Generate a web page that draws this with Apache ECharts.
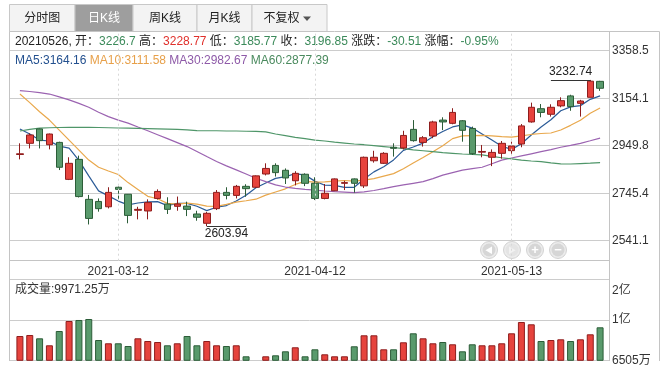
<!DOCTYPE html>
<html><head><meta charset="utf-8">
<script src="https://cdn.jsdelivr.net/npm/echarts@6/dist/echarts.min.js"></script>
<style>html,body{margin:0;padding:0;background:#fff}#c{width:667px;height:367px}</style>
</head><body><div id="c"></div>
<script>
const dates = ['2021-02-26','2021-03-01','2021-03-02','2021-03-03','2021-03-04','2021-03-05','2021-03-08','2021-03-09','2021-03-10','2021-03-11','2021-03-12','2021-03-15','2021-03-16','2021-03-17','2021-03-18','2021-03-19','2021-03-22','2021-03-23','2021-03-24','2021-03-25','2021-03-26','2021-03-29','2021-03-30','2021-03-31','2021-04-01','2021-04-02','2021-04-06','2021-04-07','2021-04-08','2021-04-09','2021-04-12','2021-04-13','2021-04-14','2021-04-15','2021-04-16','2021-04-19','2021-04-20','2021-04-21','2021-04-22','2021-04-23','2021-04-26','2021-04-27','2021-04-28','2021-04-29','2021-04-30','2021-05-06','2021-05-07','2021-05-10','2021-05-11','2021-05-12','2021-05-13','2021-05-14','2021-05-17','2021-05-18','2021-05-19','2021-05-20','2021-05-21','2021-05-24','2021-05-25','2021-05-26'];
const opens  = [2912,2960,3022,2954,2964,2805,2891,2719,2710,2687,2771,2741,2672,2669,2723,2699,2689,2690,2656,2616,2679,2749,2736,2775,2771,2828,2865,2844,2799,2827,2788,2723,2756,2788,2807,2777,2885,2874,2943,2940,3020,2964,2991.5,3060,3046,3057,3024,2922,2900,2917,2928.5,2957,3052,3109,3085,3121,3164,3132,3158,3226.7];
const closes = [2915,2996,2971.5,3000,2857,2874,2731,2637,2679,2749,2762,2650,2676,2705,2753,2676,2699,2676,2642,2659,2749,2736,2775,2765,2820,2852,2834,2811,2831,2788,2723,2745,2807,2791,2788,2900,2900,2917,2938.5,2994,2971.5,2984,3052,3052,3093,3016,2915.5,2925,2921,2960,2948.5,3035,3115,3093,3115,3143.5,3118,3142,3227.36,3196.85];
const lows   = [2891,2938,2938,2934,2845,2802,2727,2611,2666,2680,2716,2616,2633,2633,2718,2656,2670,2647,2627,2603.94,2673,2719,2723,2730,2768,2822,2817,2785,2779,2776,2716,2719,2755,2759,2748,2768,2877,2871,2903,2934,2967,2946,2982,3017,3042,2967,2910,2900,2862,2894,2910,2943,3049,3072,3075,3115,3100,3075,3158,3185.77];
const highs  = [2960,3003,3024,3002,2967,2900,2907,2738,2723,2771,2774,2742,2687,2719,2762,2728,2731,2709,2670,2665,2759,2771,2781,2784,2822,2874,2874,2852,2840,2831,2814,2785,2809,2799,2809,2903,2928,2922,2960,3014,3060,2991,3057,3072,3111,3060,3032,2953,2934,2970,2967,3043,3135,3129,3128,3158,3169,3147,3232.74,3228.77];
const volumes = [9057,9163,8816,8081,9583,10633,10738,10843,8637,8291,8291,8007,8816,8532,8427,8081,8291,9057,8081,8532,8081,8007,8081,6925,6535,6925,7030,7450,7871,6925,7660,7135,6925,6925,7976,9131,9131,7660,7660,8396,9341,8816,8291,8427,8186,7450,8186,8081,8081,8291,9341,10528,10286,8532,8637,8711,8532,8711,9236,9971.25];
const ma5  = [3022,3000,2974,2970,2947.9,2939.7,2886.7,2819.8,2755.6,2734,2711.6,2695.4,2703.2,2708.4,2709.2,2692,2701.8,2701.8,2689.2,2670.4,2685,2692.4,2712.2,2736.8,2769,2789.6,2809.2,2816.4,2829.6,2823.2,2797.4,2779.6,2778.8,2770.8,2770.8,2806.2,2837.2,2859.2,2888.7,2929.9,2944.2,2961,2988,3010.7,3030.5,3039.4,3025.7,3000.3,2974.1,2947.5,2934,2957.9,2995.9,3030.3,3061.3,3100.3,3116.8,3122.2,3149.1,3164.16];
const ma10 = [3172,3135,3096,3060,3017,2974,2931,2888,2857,2841,2825.7,2791.1,2761.5,2732,2721.6,2701.8,2698.6,2702.5,2698.8,2689.8,2688.5,2697.1,2707,2713,2719.7,2737.3,2750.8,2764.3,2783.2,2796.1,2793.5,2794.4,2797.6,2800.2,2797,2801.8,2808.4,2819,2829.8,2850.4,2875.2,2899.1,2923.6,2949.7,2980.2,2991.8,2993.4,2994.2,2992.4,2989,2986.7,2991.8,2998.1,3002.2,3004.4,3017.2,3037.4,3059.1,3089.7,3111.58];
const ma30 = [3187,3183,3178,3172,3160,3147,3132,3115,3094,3075,3060,3047,3030,3014,2997,2980,2963,2946,2925,2903,2882,2863,2846,2828,2810,2795,2781,2772,2766,2762,2759,2755,2752,2750,2748,2751,2757,2765,2774,2781,2788,2795,2808,2823,2834,2845,2851,2857,2872,2888,2897,2906,2915,2924,2933,2943,2951,2960,2971,2982.67];
const ma60 = [3013,3020,3025,3027,3028,3029,3029,3029,3028,3027,3026,3025,3024,3023,3022,3021,3020,3018,3015,3014,3014,3013,3013,3012,3011,3009,3000,2993,2986,2980,2974,2970,2965,2961,2957,2954,2950,2946,2942,2937,2932,2928,2924,2920,2917,2914,2912,2910,2904,2898,2893,2888,2884,2881,2876,2872,2871,2873,2875,2877.39];
const priceTicks = [2541.1, 2745.4, 2949.8, 3154.1, 3358.5];
const volTicks = [6505, 10759, 15013];
const dateLabels = ['2021-03-12','2021-04-12','2021-05-13'];
const tabs = ['分时图','日K线','周K线','月K线','不复权'];

const priceMin = 2455.1, priceMax = 3438.9;
const volMin = volTicks[0], volMax = volTicks[2];
const FONT = '"Liberation Sans", Arial, "Noto Sans CJK SC", sans-serif';
const UP = '#e6433d', UPB = '#8e1d1d', DN = '#599a6c', DNB = '#2c5d38';
const GRID = '#cccccc';

const n = dates.length, last = n - 1;
const prevClose = closes[last - 1];
const chg = closes[last] - prevClose;
const pct = chg / prevClose * 100;
const cls = v => v > prevClose ? 'r' : (v < prevClose ? 'g' : 'k');
const infoText = '{k|' + dates[last].replace(/-/g, '') + ', 开：}{' + cls(opens[last]) + '|' + opens[last] + '}' +
  '{k| 高：}{' + cls(highs[last]) + '|' + highs[last] + '}' +
  '{k| 低：}{' + cls(lows[last]) + '|' + lows[last] + '}' +
  '{k| 收：}{' + cls(closes[last]) + '|' + closes[last] + '}' +
  '{k| 涨跌：}{' + (chg >= 0 ? 'r' : 'g') + '|' + chg.toFixed(2) + '}' +
  '{k| 涨幅：}{' + (chg >= 0 ? 'r' : 'g') + '|' + pct.toFixed(2) + '%}';
const maText = '{b|MA5:' + ma5[last].toFixed(2) + '} {o|MA10:' + ma10[last].toFixed(2) + '} {p|MA30:' + ma30[last].toFixed(2) + '} {q|MA60:' + ma60[last].toFixed(2) + '}';

let maxIdx = 0, minIdx = 0;
highs.forEach((h, i) => { if (h > highs[maxIdx]) maxIdx = i; });
lows.forEach((l, i) => { if (l < lows[minIdx]) minIdx = i; });

const fmtVol = v => v >= 10000 ? Math.round(v / 10000) + '亿' : Math.round(v) + '万';

// decorative frame / tabs / nav buttons
const tabX = [9.5, 75, 133, 197, 252, 327];
const graphics = [];
tabs.forEach((t, i) => {
  const active = i === 1;
  graphics.push({type: 'rect', silent: true, shape: {x: tabX[i], y: 4.5, width: tabX[i + 1] - tabX[i], height: 27},
    style: {fill: active ? '#9e9e9e' : '#f3f3f3', stroke: '#c8c8c8', lineWidth: 1}});
  const cx = (tabX[i] + tabX[i + 1]) / 2 - (i === 4 ? 8 : 0);
  graphics.push({type: 'text', silent: true, x: cx, y: 18.5,
    style: {text: t, fill: active ? '#ffffff' : '#222', font: '12px ' + FONT, align: 'center', verticalAlign: 'middle'}});
});
graphics.push({type: 'polygon', silent: true, shape: {points: [[303, 16.5], [311, 16.5], [307, 21]]}, style: {fill: '#555'}});
const hl = (x1, y1, x2, y2, c) => ({type: 'line', silent: true, shape: {x1, y1, x2, y2}, style: {stroke: c || '#c4c4c4', lineWidth: 1}});
graphics.push(hl(9.5, 31.5, 659.5, 31.5));
graphics.push(hl(9.5, 31.5, 9.5, 361));
graphics.push(hl(609.5, 31.5, 609.5, 361));
graphics.push(hl(659.5, 31.5, 659.5, 361));
graphics.push(hl(9.5, 260.5, 609.5, 260.5));
graphics.push(hl(9.5, 279.5, 609.5, 279.5));
graphics.push(hl(9.5, 360.5, 609.5, 360.5));
graphics.push({type: 'text', silent: true, x: 15, y: 42, style: {text: infoText, font: '12px ' + FONT, verticalAlign: 'middle',
  rich: {k: {fill: '#222', fontSize: 12, fontFamily: FONT}, r: {fill: '#e0302b', fontSize: 12, fontFamily: FONT}, g: {fill: '#3b8a5a', fontSize: 12, fontFamily: FONT}}}});
graphics.push({type: 'text', silent: true, x: 15, y: 60.5, style: {text: maText, font: '12px ' + FONT, verticalAlign: 'middle',
  rich: {b: {fill: '#23508f', fontSize: 12, fontFamily: FONT}, o: {fill: '#e7a04a', fontSize: 12, fontFamily: FONT}, p: {fill: '#8e5aa8', fontSize: 12, fontFamily: FONT}, q: {fill: '#4a8a5e', fontSize: 12, fontFamily: FONT}}}});
graphics.push({type: 'text', silent: true, x: 15, y: 289.5, style: {text: '成交量:' + volumes[last].toFixed(2) + '万', fill: '#333', font: '12px ' + FONT, verticalAlign: 'middle'}});
const navX = [489, 512, 535, 558];
const navSym = ['◀', '▶', '+', '−'];
navX.forEach((x, i) => {
  graphics.push({type: 'circle', silent: true, shape: {cx: x, cy: 250, r: 8.5}, style: {fill: '#ececec', stroke: '#d2d2d2', lineWidth: 1}});
  graphics.push({type: 'circle', silent: true, shape: {cx: x, cy: 250, r: 6.5}, style: {fill: i === 1 ? '#e4e4e4' : '#d6d6d6'}});
  graphics.push({type: 'text', silent: true, x: x, y: 250.5, style: {text: navSym[i], fill: i === 1 ? '#f2f2f2' : '#ffffff',
    font: (i < 2 ? '8px ' : 'bold 13px ') + FONT, align: 'center', verticalAlign: 'middle'}});
});

const candleData = dates.map((d, i) => [opens[i], closes[i], lows[i], highs[i]]);
const volData = volumes.map((v, i) => ({value: v, itemStyle: closes[i] >= opens[i] ? {color: UP, borderColor: UPB} : {color: DN, borderColor: DNB}}));

const maSeries = [[ 'MA5', ma5, '#2b5b97'], ['MA10', ma10, '#e9a84c'], ['MA30', ma30, '#9b63b1'], ['MA60', ma60, '#4f9669']].map(([name, data, color]) => ({
  name, type: 'line', xAxisIndex: 0, yAxisIndex: 0, data, showSymbol: false, symbol: 'none', smooth: false,
  lineStyle: {color, width: 1.2}, silent: true, z: 3
}));

const chart = echarts.init(document.getElementById('c'), null, {renderer: 'canvas'});
chart.setOption({
  animation: false,
  textStyle: {fontFamily: FONT},
  grid: [
    {left: 15, right: 62, top: 32, height: 228.7, containLabel: false, outerBoundsMode: 'none'},
    {left: 15, right: 62, top: 279.3, height: 81, containLabel: false, outerBoundsMode: 'none'},
    {left: 10, right: 58, top: 32, height: 228.7, containLabel: false, outerBoundsMode: 'none'},
    {left: 10, right: 58, top: 279.3, height: 81, containLabel: false, outerBoundsMode: 'none'}
  ],
  xAxis: [
    {gridIndex: 0, type: 'category', data: dates, boundaryGap: true, axisLine: {show: false}, axisTick: {show: false}, splitLine: {show: false},
      axisLabel: {interval: (idx, val) => dateLabels.includes(val), color: '#333', fontSize: 12, margin: 5, hideOverlap: false}},
    {gridIndex: 1, type: 'category', data: dates, boundaryGap: true, axisLine: {show: false}, axisTick: {show: false}, axisLabel: {show: false}, splitLine: {show: false}},
    {gridIndex: 2, type: 'value', min: 0, max: 1, show: false},
    {gridIndex: 3, type: 'value', min: 0, max: 1, show: false}
  ],
  yAxis: [
    {gridIndex: 0, type: 'value', min: priceMin, max: priceMax, show: false, splitLine: {show: false}},
    {gridIndex: 1, type: 'value', min: volMin, max: volMax, show: false, splitLine: {show: false}},
    {gridIndex: 2, type: 'value', position: 'right', min: priceMin, max: priceMax,
      axisLine: {show: false}, axisTick: {show: false, customValues: priceTicks},
      axisLabel: {customValues: priceTicks, margin: 3, color: '#333', fontSize: 12, formatter: v => v.toFixed(1)},
      splitLine: {show: true, lineStyle: {color: GRID, width: 1}}},
    {gridIndex: 3, type: 'value', position: 'right', min: volMin, max: volMax,
      axisLine: {show: false}, axisTick: {show: false, customValues: volTicks},
      axisLabel: {customValues: volTicks, margin: 3, color: '#333', fontSize: 12,
        formatter: v => v === volMax ? '{t|' + fmtVol(v) + '}' : fmtVol(v),
        rich: {t: {padding: [22, 0, 0, 0], fontSize: 12, color: '#333'}}},
      splitLine: {show: true, lineStyle: {color: GRID, width: 1}}}
  ],
  graphic: graphics,
  series: [
    {type: 'candlestick', xAxisIndex: 0, yAxisIndex: 0, data: candleData, barWidth: 7, z: 4,
      itemStyle: {color: UP, color0: DN, borderColor: UPB, borderColor0: DNB, borderWidth: 1},
      markLine: {silent: true, symbol: ['none', 'none'], animation: false,
        data: [
          ...dateLabels.map(d => ({xAxis: d, lineStyle: {type: [2, 3], color: '#d8d8d8', width: 1}, label: {show: false}})),
          [{coord: [maxIdx - 4, highs[maxIdx]], lineStyle: {color: '#333', width: 1, type: 'solid'},
            label: {show: true, position: 'insideMiddleTop', distance: 2, color: '#222', fontSize: 12, formatter: () => highs[maxIdx].toFixed(2)}},
           {coord: [maxIdx, highs[maxIdx]]}],
          [{coord: [minIdx, lows[minIdx]], lineStyle: {color: '#333', width: 1, type: 'solid'},
            label: {show: true, position: 'insideMiddleBottom', distance: 2, color: '#222', fontSize: 12, formatter: () => lows[minIdx].toFixed(2)}},
           {coord: [minIdx + 4, lows[minIdx]]}]
        ]}},
    ...maSeries,
    {type: 'bar', xAxisIndex: 1, yAxisIndex: 1, data: volData, barWidth: 7, itemStyle: {borderWidth: 1}, silent: true}
  ]
});
</script></body></html>
